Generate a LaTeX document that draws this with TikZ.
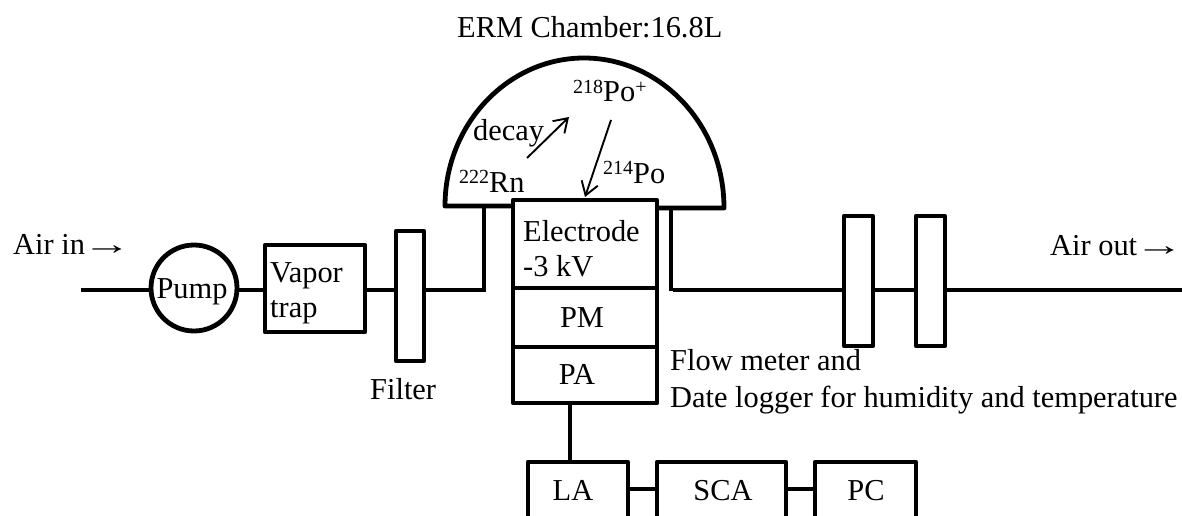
\documentclass[tikz,border=0pt]{standalone}
\usepackage{fontspec}
\setmainfont{Liberation Serif}
\usetikzlibrary{arrows.meta}
\newcommand{\isotope}[1]{\raisebox{8.5pt}{\fontsize{20}{20}\selectfont #1}}
\newcommand{\longarrow}{\hspace*{-10pt}\scalebox{1.6}[1]{→}}
\tikzset{
  x=1pt,y=-1pt,
  thick line/.style={line width=4.8pt,line join=round},
  pipe/.style={line width=4pt},
  box/.style={draw,line width=4.8pt,line join=round,fill=white,rectangle,inner sep=0pt},
  pumpbox/.style={draw,line width=4.8pt,fill=white,circle,inner sep=0pt,minimum size=86pt},
  thin arrow/.style={line width=1.9pt,-{Straight Barb[length=13pt,width=17pt,line width=1.9pt]}},
  txt/.style={anchor=base west,inner sep=0pt,font=\fontsize{30.4}{30.4}\selectfont},
  ctxt/.style={anchor=base,inner sep=0pt,font=\fontsize{30.4}{30.4}\selectfont},
}
\newcommand{\boxat}[5]{\node[box,minimum width={(#3-#2)*1pt},minimum height={(#5-#4)*1pt}] (#1) at ({(#2+#3)/2},{(#4+#5)/2}) {};}
\begin{document}
\begin{tikzpicture}
\useasboundingbox (0,0) rectangle (1182,516);
\clip (0,0) rectangle (1182,516);
\fill[white] (0,0) rectangle (1182,516);
% free ends and corners
\coordinate (inlet) at (81,290);
\coordinate (outlet) at (1182,290);
\coordinate (domeL) at (445,206);
\coordinate (domeR) at (724,208);
\coordinate (portL) at (484,206);
\coordinate (portR) at (671,208);
\coordinate (cornerL) at (484,290);
\coordinate (cornerR) at (671,291);
\coordinate (startR) at (673,290);
% connectors under the boxes
\draw[pipe] (inlet) -- (cornerL);
\draw[pipe,line cap=butt] (portL) -- ([yshift=-2pt]cornerL);
\draw[pipe,line cap=butt] (portR) -- (cornerR);
\draw[pipe] (startR) -- (outlet);
% chamber
\draw[thick line] (513,206) -- (domeL) .. controls (445,124) and (508,58) .. (584,58)
   .. controls (660,58) and (724,124) .. (domeR) -- (657,208);
% boxes
\node[pumpbox] (pump) at (194,288) {};
\boxat{vapor}{265}{365}{245}{332}
\boxat{filterA}{396}{424}{231}{361}
\boxat{filterB}{844}{873}{216}{346}
\boxat{filterC}{916}{945}{216}{346}
\boxat{electrode}{513}{657}{200}{288}
\boxat{pm}{513}{657}{288}{347}
\boxat{pa}{513}{657}{347}{403}
\boxat{la}{528}{628}{462}{518}
\boxat{sca}{657}{786}{462}{518}
\boxat{pc}{815}{916}{462}{518}
% signal chain
\coordinate (paOut) at (570,403);
\coordinate (laIn) at (570,462);
\coordinate (chain) at (0,489);
\draw[pipe] (paOut) -- (laIn);
\draw[pipe] (la.east |- chain) -- (sca.west |- chain);
\draw[pipe] (sca.east |- chain) -- (pc.west |- chain);
% arrows
\coordinate (decayA) at (527,158);
\coordinate (decayB) at (569,117);
\coordinate (poA) at (611,120);
\coordinate (poB) at (585,197);
\draw[thin arrow] (decayA) -- (decayB);
\draw[thin arrow] (poA) -- (poB);
% texts
\node[txt] (tChamber) at (457,38) {ERM Chamber:16.8L};
\node[txt] (tPoPlus) at (573,102) {\isotope{218}Po\isotope{+}};
\node[txt] (tDecay) at (473,140) {decay};
\node[txt] (tRn) at (459,192) {\isotope{222}Rn};
\node[txt] (tPo) at (603,183) {\isotope{214}Po};
\node[txt] (tElectrode) at (523,241) {Electrode};
\node[txt] (tKv) at (523,276) {-3 kV};
\node[ctxt] (tPM) at (582,327) {PM};
\node[ctxt] (tPA) at (577,384) {PA};
\node[ctxt] (tLA) at (573,500) {LA};
\node[ctxt] (tSCA) at (723,500) {SCA};
\node[ctxt] (tPC) at (866,500) {PC};
\node[txt] (tIn) at (13,254) {Air in \longarrow};
\node[txt] (tOut) at (1050,255) {Air out \longarrow};
\node[ctxt] (tPump) at (192,298) {Pump};
\node[txt] (tVapor) at (270,282) {Vapor};
\node[txt] (tTrap) at (270,317) {trap};
\node[txt] (tFilter) at (370,399) {Filter};
\node[txt] (tFlow) at (670,370) {Flow meter and};
\node[txt] (tLogger) at (670,407) {Date logger for humidity and temperature};
\end{tikzpicture}
\end{document}
